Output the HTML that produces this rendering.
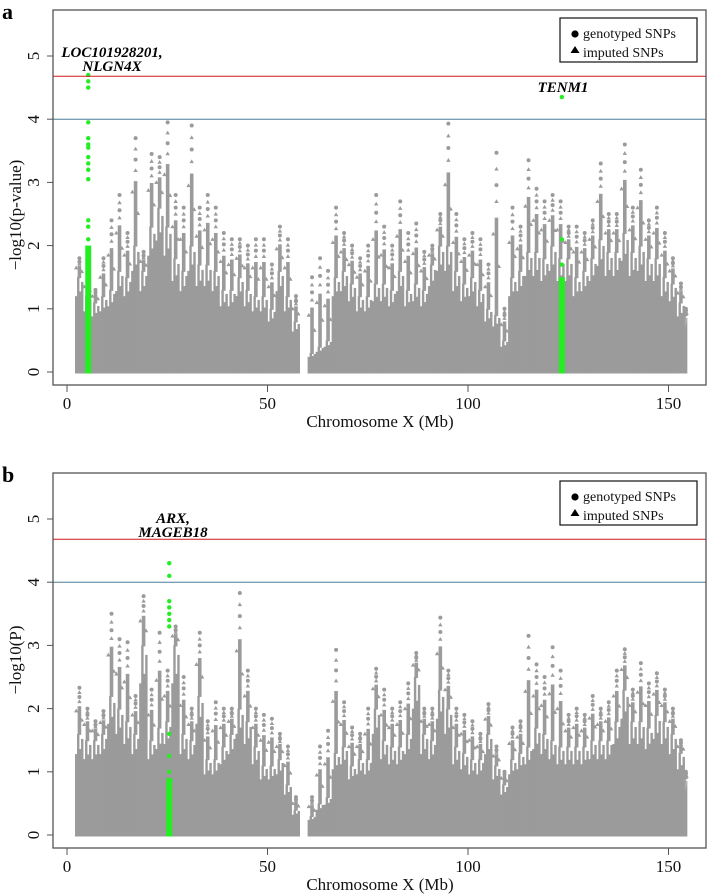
<!DOCTYPE html>
<html><head><meta charset="utf-8">
<style>
html,body{margin:0;padding:0;background:#fff;}
svg{display:block;font-family:"Liberation Serif",serif;}
</style></head>
<body>
<svg id="chart" width="709" height="896" viewBox="0 0 709 896" xmlns="http://www.w3.org/2000/svg"></svg>
<script>
// ---- data (2 Mb bins starting at binStarts) ----
const binStarts = [2,4,6,8,10,12,14,16,18,20,22,24,26,28,30,32,34,36,38,40,42,44,46,48,50,52,54,56,58,60,62,64,66,68,70,72,74,76,78,80,82,84,86,88,90,92,94,96,98,100,102,104,106,108,110,112,114,116,118,120,122,124,126,128,130,132,134,136,138,140,142,144,146,148,150,152,154];
const denseA = [1.5,1.2,1.1,1.2,1.3,1.6,1.5,2.0,1.6,2.3,2.6,2.3,1.8,1.6,2.0,1.7,1.7,1.6,1.3,1.3,1.5,1.3,1.2,1.2,1.0,1.6,1.2,0.8,0,0.3,0.4,0.5,1.5,1.6,1.4,1.2,1.2,1.4,1.4,1.3,1.6,1.3,1.4,1.3,1.7,2.0,2.0,1.6,1.4,1.5,1.3,1.0,0.9,0.5,1.5,1.6,1.9,1.9,1.8,2.0,1.8,1.8,1.5,1.6,1.8,2.1,1.9,1.9,2.2,1.9,2.0,1.8,1.8,1.5,1.4,1.1,0.9];
const peakA = [1.8,1.5,1.3,1.8,2.4,2.8,2.2,3.7,1.9,3.45,3.4,3.95,2.8,2.6,3.9,2.6,2.8,2.6,2.2,2.1,2.1,2.0,2.1,2.1,1.7,2.3,2.1,1.2,0,1.5,1.8,1.6,2.6,2.2,2.0,1.8,2.0,2.8,2.3,2.0,2.7,2.2,2.35,1.9,2.0,2.5,3.93,2.5,2.1,2.2,2.1,1.7,3.47,1.0,2.6,2.3,3.35,2.9,2.7,2.8,2.7,2.3,2.3,2.2,2.4,3.3,2.5,2.5,3.6,2.6,3.2,2.4,2.6,2.2,1.8,1.4,1.0];
const denseB = [1.6,1.5,1.5,1.6,2.2,2.0,1.8,1.6,3.0,1.5,1.7,1.8,3.0,1.6,1.5,2.2,1.2,1.2,1.4,1.6,2.0,1.8,1.4,1.1,1.1,1.2,0.8,0.4,0,0.3,0.5,0.6,1.3,1.4,1.1,1.2,1.2,2.0,1.5,1.4,1.4,1.6,2.5,1.6,1.5,2.3,2.0,1.4,1.3,1.2,1.2,1.6,1.1,0.8,1.2,1.3,1.4,1.7,1.6,1.5,1.4,1.4,1.4,1.4,1.5,1.5,1.5,1.8,2.3,1.8,1.8,1.7,1.9,1.8,1.6,1.3,0.9];
const peakB = [2.33,2.0,1.8,1.96,3.5,3.1,3.05,2.2,3.78,2.3,3.2,2.6,3.3,2.5,2.0,3.2,1.8,2.1,2.0,2.0,3.83,2.6,2.0,1.9,1.84,1.6,1.4,0.6,0,0.6,1.4,1.65,2.93,2.1,1.7,1.6,2.0,2.63,2.3,2.0,2.1,2.4,2.88,2.0,2.0,3.44,2.6,2.0,1.9,1.8,1.6,2.07,1.4,1.0,1.7,1.8,3.15,2.7,2.5,2.97,2.6,1.9,2.0,1.9,2.2,2.0,2.1,2.6,2.94,2.3,2.72,2.4,2.56,2.3,2.0,1.5,1.0];
// highlighted loci
const hitPosA = [5.3, 123.4];
const hitDenseA = [2.0, 1.5];
const hitPointsA = [[2.1,2.3,2.4,3.05,3.2,3.3,3.4,3.55,3.6,3.7,3.95,4.5,4.6,4.7],[1.7,2.1,4.35]];
const hitPosB = [25.5];
const hitDenseB = [0.9];
const hitPointsB = [[1.0,1.25,1.6,3.3,3.4,3.5,3.6,3.7,4.1,4.3]];
const xTicks = [0,50,100,150];
const yTicks = [0,1,2,3,4,5];
const sigLine = 4.68, sugLine = 4.0;
const chrEnd = 154.6;

const NS="http://www.w3.org/2000/svg";
const svg=document.getElementById('chart');
function mk(tag,attrs,parent){const e=document.createElementNS(NS,tag);for(const k in attrs)e.setAttribute(k,attrs[k]);(parent||svg).appendChild(e);return e;}
const GRAY='#9b9b9b';

function panel(cfg){
  const g=mk('g',{});
  
  
  const L=53,R=706,T=cfg.top,B=cfg.top+375,y0=cfg.top+362,unit=63.2;
  const xs=mb=>67+4.01*mb, ys=v=>y0-v*unit;
  const shapes=[0.8,1,0.85,0.95];
  binStarts.forEach((s,i)=>{
    const d=cfg.dense[i], p=cfg.peak[i];
    if(p<=0) return;
    const w=Math.min(2,chrEnd-s);
    // jagged base columns
    shapes.forEach((f,j)=>{
      const sx=xs(s+j*w/4);
      const r=mk('rect',{x:sx,y:ys(d*f),width:4.01*w/4+0.4,height:d*f*unit+1.5,fill:GRAY},g);
      
      
    });
    // stacked column of markers towards the peak
    const cx=xs(s+w*0.55);
    const top=d+(p-d)*0.6;
    const col=mk('rect',{x:cx-1.8,y:ys(top),width:3.6,height:(top-d)*unit+1,fill:GRAY},g);
    
    
    [0.7,0.8,0.9,1].forEach((f,j)=>{
      const v=d+(p-d)*f;
      const tri=j%2===0;
      const m = tri ? mk('path',{d:`M${cx},${ys(v)-2.2} l2.2,3.8 l-4.4,0 z`,fill:GRAY},g)
                    : mk('circle',{cx:cx,cy:ys(v),r:2,fill:GRAY},g);
      
      
    });
    [0.3,0.5].forEach((f,j)=>{
      const v=d+(p-d)*f;
      const px=xs(s+w*(j?0.15:0.85));
      const m=mk('path',{d:`M${px},${ys(v)-2.2} l2.2,3.8 l-4.4,0 z`,fill:GRAY},g);
      
      
    });
  });
  // highlighted loci
  cfg.hitPos.forEach((pos,i)=>{
    const r=mk('rect',{x:xs(pos)-3,y:ys(cfg.hitDense[i]),width:6,height:cfg.hitDense[i]*unit+1.5,fill:'#22ee22'},g);
    
    
    cfg.hitPoints[i].forEach((v,j)=>{
      const c=mk('circle',{cx:xs(pos),cy:ys(v),r:2.2,fill:'#22ee22'},g);
      
      
    });
  });
  // threshold lines
  const l1=mk('line',{x1:L,x2:R,y1:ys(sigLine),y2:ys(sigLine),stroke:'#d01818','stroke-width':1},g);
  
  
  const l2=mk('line',{x1:L,x2:R,y1:ys(sugLine),y2:ys(sugLine),stroke:'#4a7f98','stroke-width':1},g);
  
  
  const bx=mk('rect',{x:L,y:T,width:R-L,height:B-T,fill:'none',stroke:'#555','stroke-width':1.3},g);
  
  
  yTicks.forEach(t=>{
    const tl=mk('line',{x1:L-6,x2:L,y1:ys(t),y2:ys(t),stroke:'#555'},g);
    
    
    const tx=mk('text',{x:0,y:0,transform:`translate(39,${ys(t)}) rotate(-90)`,'text-anchor':'middle','font-size':17,fill:'#111'},g);
    tx.textContent=t;
    
    
  });
  xTicks.forEach(t=>{
    const tl=mk('line',{x1:xs(t),x2:xs(t),y1:B,y2:B+7,stroke:'#555'},g);
    
    
    const tx=mk('text',{x:xs(t),y:B+24,'text-anchor':'middle','font-size':17,fill:'#111'},g);
    tx.textContent=t;
    
    
  });
  const xl=mk('text',{x:380,y:B+42,'text-anchor':'middle','font-size':17,fill:'#111'},g);
  xl.textContent='Chromosome X (Mb)';
  
  
  const yl=mk('text',{x:0,y:0,transform:`translate(21,${cfg.ylabelY}) rotate(-90)`,'text-anchor':'middle','font-size':17,fill:'#111'},g);
  yl.textContent=cfg.ylabel;
  
  
  const pl=mk('text',{x:2,y:T+9,'font-size':22,'font-weight':'bold',fill:'#000'},g);
  pl.textContent=cfg.letter;
  
  
  const lg=mk('g',{},g);
  
  
  mk('rect',{x:560,y:T+8,width:137,height:44,fill:'#fff',stroke:'#111','stroke-width':1.2},lg);
  mk('circle',{cx:575,cy:T+24,r:3.6,fill:'#000'},lg);
  mk('path',{d:`M575,${T+36} l4.5,7 l-9,0 z`,fill:'#000'},lg);
  const t1=mk('text',{x:583,y:T+28,'font-size':14,fill:'#111'},lg); t1.textContent='genotyped SNPs';
  
  
  const t2=mk('text',{x:583,y:T+47,'font-size':14,fill:'#111'},lg); t2.textContent='imputed SNPs';
  
  
  cfg.genes.forEach(gn=>{
    gn.lines.forEach((ln,k)=>{
      const tx=mk('text',{x:gn.x,y:gn.y+k*14,'text-anchor':'middle','font-size':15,'font-weight':'bold','font-style':'italic',fill:'#000'},g);
      tx.textContent=ln;
      
      
    });
  });
}
panel({name:'panel-a',top:10,letter:'a',ylabel:'\u2212log10(p-value)',ylabelY:215,dense:denseA,peak:peakA,
  hitPos:hitPosA,hitDense:hitDenseA,hitPoints:hitPointsA,
  genes:[{x:112,y:57,lines:['LOC101928201,','NLGN4X']},{x:563,y:92,lines:['TENM1']}]});
panel({name:'panel-b',top:473,letter:'b',ylabel:'\u2212log10(P)',ylabelY:660,dense:denseB,peak:peakB,
  hitPos:hitPosB,hitDense:hitDenseB,hitPoints:hitPointsB,
  genes:[{x:173,y:523,lines:['ARX,','MAGEB18']}]});
</script>
</body></html>
